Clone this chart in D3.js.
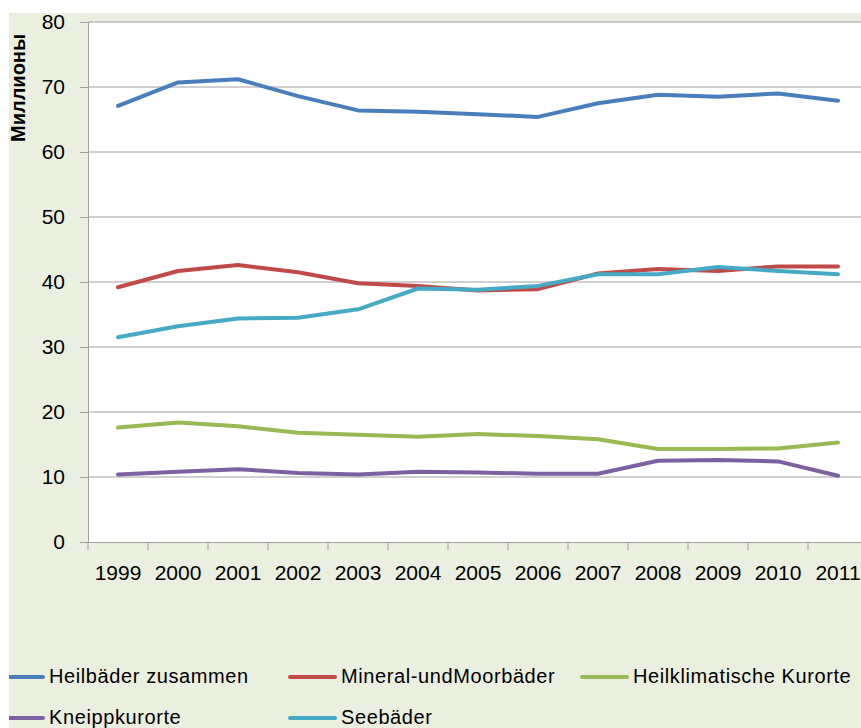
<!DOCTYPE html>
<html>
<head>
<meta charset="utf-8">
<script src="https://cdn.jsdelivr.net/npm/d3@7"></script>
<style>
  body { margin: 0; background: #fff; }
  svg { display: block; font-family: "Liberation Sans", Arial, sans-serif; }
</style>
</head>
<body>
<div id="chart"></div>
<script>
const years = ["1999", "2000", "2001", "2002", "2003", "2004", "2005", "2006", "2007", "2008", "2009", "2010", "2011"];
const seriesNames = ["Heilbäder zusammen", "Mineral-undMoorbäder", "Heilklimatische Kurorte", "Kneippkurorte", "Seebäder"];
const heilbaeder = [67.1, 70.7, 71.2, 68.6, 66.4, 66.2, 65.8, 65.4, 67.5, 68.8, 68.5, 69.0, 67.9];
const mineral = [39.2, 41.7, 42.6, 41.5, 39.8, 39.4, 38.7, 38.9, 41.3, 42.0, 41.7, 42.4, 42.4];
const heilklima = [17.6, 18.4, 17.8, 16.8, 16.5, 16.2, 16.6, 16.3, 15.8, 14.3, 14.3, 14.4, 15.3];
const kneipp = [10.4, 10.8, 11.2, 10.6, 10.4, 10.8, 10.7, 10.5, 10.5, 12.5, 12.6, 12.4, 10.2];
const seebaeder = [31.5, 33.2, 34.4, 34.5, 35.8, 39.0, 38.8, 39.4, 41.2, 41.2, 42.3, 41.7, 41.2];
const yTicks = [0, 10, 20, 30, 40, 50, 60, 70, 80];
const colors = ["#4A7EBB", "#BE4B48", "#98B954", "#7D60A0", "#46AAC5"];

const series = [heilbaeder, mineral, heilklima, kneipp, seebaeder];

const width = 861, height = 728;
const plot = { left: 88, top: 22, width: 780, height: 520 };
const area = { x: 9, y: 13 };

const svg = d3.select("#chart").append("svg")
    .attr("width", width)
    .attr("height", height);

svg.append("clipPath")
    .attr("id", "areaClip")
    .append("rect")
    .attr("x", area.x).attr("y", area.y)
    .attr("width", width - area.x).attr("height", height - area.y);

// chart area background
svg.append("rect")
    .attr("x", area.x).attr("y", area.y)
    .attr("width", width - area.x).attr("height", height - area.y)
    .attr("fill", "#EBEFDF");

svg.append("rect")
    .attr("x", plot.left).attr("y", plot.top)
    .attr("width", plot.width).attr("height", plot.height)
    .attr("fill", "#fff");

const x = d3.scaleBand()
    .domain(years)
    .range([plot.left, plot.left + plot.width]);

const y = d3.scaleLinear()
    .domain([0, 80])
    .range([plot.top + plot.height, plot.top]);

// gridlines
svg.append("g")
    .selectAll("line")
    .data(yTicks.filter(d => d > 0))
    .enter().append("line")
    .attr("x1", plot.left).attr("x2", plot.left + plot.width)
    .attr("y1", d => y(d)).attr("y2", d => y(d))
    .attr("stroke", "#A0A0A0")
    .attr("stroke-width", 1);

// y axis
const yAxis = svg.append("g")
    .attr("transform", `translate(${plot.left},0)`)
    .call(d3.axisLeft(y).tickValues(yTicks).tickSize(8).tickPadding(15));
yAxis.select(".domain").attr("stroke", "#A0A0A0");
yAxis.selectAll(".tick line").attr("stroke", "#A0A0A0");
yAxis.selectAll(".tick text")
    .attr("font-size", 21)
    .attr("fill", "#000")
    .attr("font-family", "Liberation Sans, Arial, sans-serif");

// x axis
const xAxis = svg.append("g")
    .attr("transform", `translate(0,${plot.top + plot.height})`)
    .call(d3.axisBottom(x).tickSize(0));
xAxis.select(".domain").attr("stroke", "#A0A0A0");
xAxis.selectAll(".tick text")
    .attr("y", 38)
    .attr("dy", 0)
    .attr("font-size", 21)
    .attr("fill", "#000")
    .attr("font-family", "Liberation Sans, Arial, sans-serif");

// x tick marks at band boundaries
svg.append("g")
    .selectAll("line")
    .data(years)
    .enter().append("line")
    .attr("x1", d => x(d)).attr("x2", d => x(d))
    .attr("y1", plot.top + plot.height).attr("y2", plot.top + plot.height + 8)
    .attr("stroke", "#A0A0A0");

// y axis title
svg.append("text")
    .attr("transform", "translate(25,88) rotate(-90)")
    .attr("text-anchor", "middle")
    .attr("font-size", 20)
    .attr("font-weight", "bold")
    .text("Миллионы");

// lines
const line = d3.line()
    .x((d, i) => x(years[i]) + x.bandwidth() / 2)
    .y(d => y(d));

svg.append("g")
    .selectAll("path")
    .data(series)
    .enter().append("path")
    .attr("d", line)
    .attr("fill", "none")
    .attr("stroke", (d, i) => colors[i])
    .attr("stroke-width", 4)
    .attr("stroke-linejoin", "round")
    .attr("stroke-linecap", "round");

// legend
const legendPos = [
    { x: -4, y: 677 }, { x: 288, y: 677 }, { x: 580, y: 677 },
    { x: -4, y: 718 }, { x: 288, y: 718 }
];

const legend = svg.append("g")
    .attr("clip-path", "url(#areaClip)")
    .selectAll("g")
    .data(seriesNames)
    .enter().append("g")
    .attr("transform", (d, i) => `translate(${legendPos[i].x},${legendPos[i].y})`);

legend.append("line")
    .attr("x1", 2).attr("x2", 47)
    .attr("y1", 0).attr("y2", 0)
    .attr("stroke", (d, i) => colors[i])
    .attr("stroke-width", 4)
    .attr("stroke-linecap", "round");

legend.append("text")
    .attr("x", 53)
    .attr("y", 6)
    .attr("font-size", 20)
    .attr("letter-spacing", 0.6)
    .attr("fill", "#000")
    .text(d => d);
</script>
</body>
</html>
